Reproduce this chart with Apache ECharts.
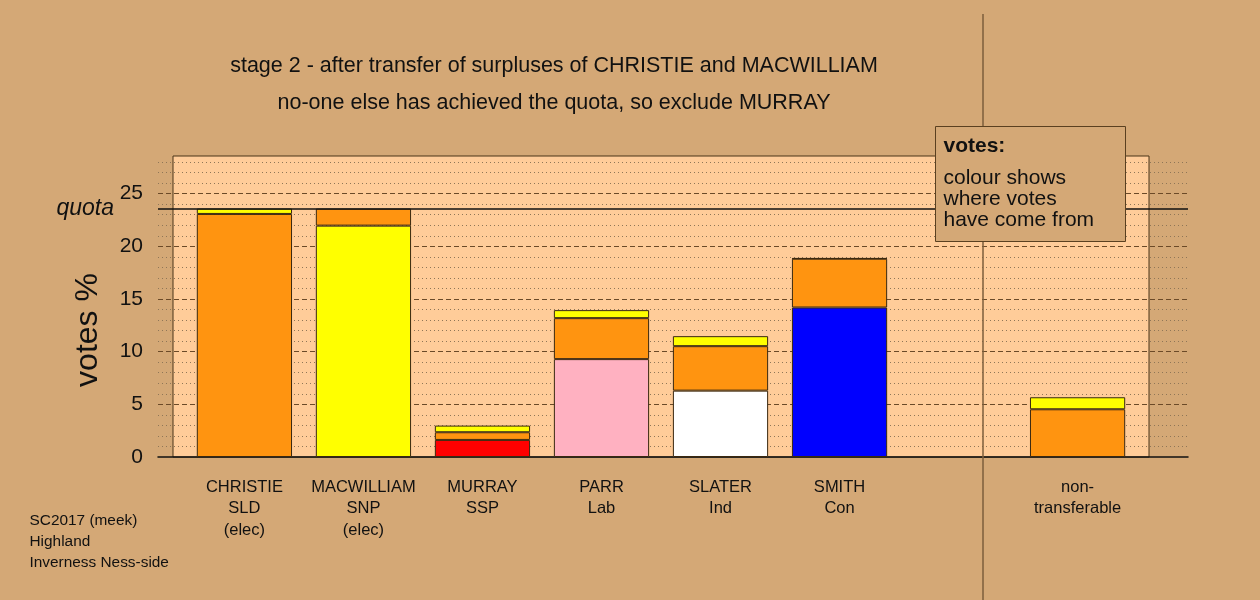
<!DOCTYPE html>
<html><head><meta charset="utf-8">
<script src="https://cdn.jsdelivr.net/npm/echarts@6/dist/echarts.min.js"></script>
<style>html,body{margin:0;padding:0;background:#D4A876}#c{width:1260px;height:600px}</style>
</head><body><div id="c"></div>
<script>
// ---- data ----
const candidates = ['CHRISTIE', 'MACWILLIAM', 'MURRAY', 'PARR', 'SLATER', 'SMITH', '', 'non-'];
const parties = ['SLD', 'SNP', 'SSP', 'Lab', 'Ind', 'Con', '', 'transferable'];
const notes = ['(elec)', '(elec)', '', '', '', '', '', ''];
const ownVotes = [23.07, 21.96, 1.62, 9.29, 6.30, 14.19, null, null];
const ownColours = ['#FF9410', '#FFFF00', '#FF0000', '#FFB1C1', '#FFFFFF', '#0000FF', null, null];
const fromChristie = [null, 1.62, 0.73, 3.89, 4.22, 4.63, null, 4.53];
const fromMacwilliam = [0.51, null, 0.63, 0.76, 0.95, 0.05, null, 1.14];
const quota = 23.58;
const yTickLabels = [0, 5, 10, 15, 20, 25];
const titleLines = ['stage 2 - after transfer of surpluses of CHRISTIE and MACWILLIAM',
  'no-one else has achieved the quota, so exclude MURRAY'];
const legendLines = ['colour shows', 'where votes', 'have come from'];
const footLines = ['SC2017 (meek)', 'Highland', 'Inverness Ness-side'];

// ---- styles ----
const FONT = '"Liberation Sans", Arial, Helvetica, sans-serif';
const BG = '#D4A876';
const PLOT = '#FFCC99';
const ORANGE = '#FF9410';
const YELLOW = '#FFFF00';
const EDGE = '#3a2810';
const TXT = '#111111';
const yMax = 28.57;
// plot frame (light panel) and category band geometry: frame spans 8.2 category widths
const frame = { left: 173, top: 156, width: 976, height: 301 };
const step = frame.width / 8.2;
const barGrid = { left: frame.left + 0.1 * step, top: frame.top, width: 8 * step, height: frame.height };

function vals(arr) { return arr.map(v => v == null ? '-' : v); }
function catLabel(value, i) {
  return [candidates[i], parties[i], notes[i]].filter(s => s).join('\n');
}

const chart = echarts.init(document.getElementById('c'), null, { renderer: 'canvas' });
const dotCol = '#8f7657';
chart.setOption({
  backgroundColor: BG,
  animation: false,
  textStyle: { fontFamily: FONT },
  grid: [
    { left: frame.left, top: frame.top, width: frame.width, height: frame.height, show: true,
      backgroundColor: PLOT, borderColor: '#4a3418', borderWidth: 1 },
    { left: 158, top: frame.top, width: 1030, height: frame.height, show: false },
    { left: barGrid.left, top: barGrid.top, width: barGrid.width, height: barGrid.height, show: false }
  ],
  xAxis: [
    { gridIndex: 0, type: 'value', min: 0, max: 1, show: false },
    { gridIndex: 1, type: 'value', min: 0, max: 1,
      axisLine: { show: true, onZero: false, lineStyle: { color: '#111', width: 1.5 } },
      axisTick: { show: false }, axisLabel: { show: false }, splitLine: { show: false } },
    { gridIndex: 2, type: 'category', data: candidates.map((c, i) => c + '#' + i),
      axisLine: { show: false }, axisTick: { show: false }, splitLine: { show: false },
      axisLabel: { interval: 0, formatter: catLabel, fontSize: 16.5, lineHeight: 21.3,
        margin: 20, color: TXT, fontFamily: FONT } }
  ],
  yAxis: [
    { gridIndex: 0, type: 'value', min: 0, max: yMax, show: false },
    { gridIndex: 1, type: 'value', min: 0, max: yMax, position: 'left', interval: 5,
      axisLine: { show: false }, axisTick: { show: false },
      axisLabel: { customValues: yTickLabels, fontSize: 21, margin: 15, color: TXT, fontFamily: FONT },
      splitLine: { show: true, showMinLine: false, showMaxLine: false,
        lineStyle: { color: '#6b4a28', type: [5, 3], width: 1 } } },
    { gridIndex: 1, type: 'value', min: 0, max: yMax, interval: 1, position: 'left',
      axisLine: { show: false }, axisTick: { show: false }, axisLabel: { show: false },
      splitLine: { show: true, showMaxLine: false,
        lineStyle: { color: ['rgba(0,0,0,0)', dotCol, dotCol, dotCol, dotCol], type: [1, 3], width: 1 } } },
    { gridIndex: 2, type: 'value', min: 0, max: yMax, show: false }
  ],
  series: [
    { name: 'own', type: 'bar', xAxisIndex: 2, yAxisIndex: 3, stack: 'v', barWidth: '80%',
      data: vals(ownVotes),
      itemStyle: { color: p => ownColours[p.dataIndex] || '#000', borderColor: EDGE, borderWidth: 1 } },
    { name: 'CHRISTIE', type: 'bar', xAxisIndex: 2, yAxisIndex: 3, stack: 'v', barWidth: '80%',
      data: vals(fromChristie), itemStyle: { color: ORANGE, borderColor: EDGE, borderWidth: 1 } },
    { name: 'MACWILLIAM', type: 'bar', xAxisIndex: 2, yAxisIndex: 3, stack: 'v', barWidth: '80%',
      data: vals(fromMacwilliam), itemStyle: { color: YELLOW, borderColor: EDGE, borderWidth: 1 } },
    { name: 'quota', type: 'line', xAxisIndex: 1, yAxisIndex: 1, data: [], z: 4,
      markLine: { silent: true, symbol: ['none', 'none'],
        data: [{ yAxis: quota }],
        lineStyle: { color: '#111', width: 1.5, type: 'solid' },
        label: { show: true, position: 'start', formatter: 'quota', distance: 44,
          fontStyle: 'italic', fontSize: 23, color: TXT, fontFamily: FONT } } }
  ],
  graphic: [
    { type: 'text', x: 554, y: 66, z: 5, style: { text: titleLines[0], font: '21.5px ' + FONT, fill: TXT, textAlign: 'center', textVerticalAlign: 'middle' } },
    { type: 'text', x: 554, y: 103, z: 5, style: { text: titleLines[1], font: '21.5px ' + FONT, fill: TXT, textAlign: 'center', textVerticalAlign: 'middle' } },
    { type: 'text', x: 88, y: 330, rotation: Math.PI / 2, z: 5, style: { text: 'votes %', font: '32px ' + FONT, fill: TXT, textAlign: 'center', textVerticalAlign: 'middle' } },
    { type: 'text', x: 29.5, y: 521, z: 5, style: { text: footLines[0], font: '15.4px ' + FONT, fill: TXT, textAlign: 'left', textVerticalAlign: 'middle' } },
    { type: 'text', x: 29.5, y: 541.7, z: 5, style: { text: footLines[1], font: '15.4px ' + FONT, fill: TXT, textAlign: 'left', textVerticalAlign: 'middle' } },
    { type: 'text', x: 29.5, y: 562.4, z: 5, style: { text: footLines[2], font: '15.4px ' + FONT, fill: TXT, textAlign: 'left', textVerticalAlign: 'middle' } },
    { type: 'line', z: 6, shape: { x1: 983, y1: 14, x2: 983, y2: 600 }, style: { stroke: '#7d5e3c', lineWidth: 1.5 } },
    { type: 'group', z: 10, children: [
      { type: 'rect', z: 10, shape: { x: 935.5, y: 126.5, width: 190, height: 115 }, style: { fill: BG, stroke: '#5a4020', lineWidth: 1 } },
      { type: 'text', z: 11, x: 943.5, y: 146.5, style: { text: 'votes:', font: 'bold 21px ' + FONT, fill: TXT, textVerticalAlign: 'middle' } },
      { type: 'text', z: 11, x: 943.5, y: 178, style: { text: legendLines[0], font: '21px ' + FONT, fill: TXT, textVerticalAlign: 'middle' } },
      { type: 'text', z: 11, x: 943.5, y: 199, style: { text: legendLines[1], font: '21px ' + FONT, fill: TXT, textVerticalAlign: 'middle' } },
      { type: 'text', z: 11, x: 943.5, y: 220, style: { text: legendLines[2], font: '21px ' + FONT, fill: TXT, textVerticalAlign: 'middle' } }
    ] }
  ]
});
</script></body></html>
